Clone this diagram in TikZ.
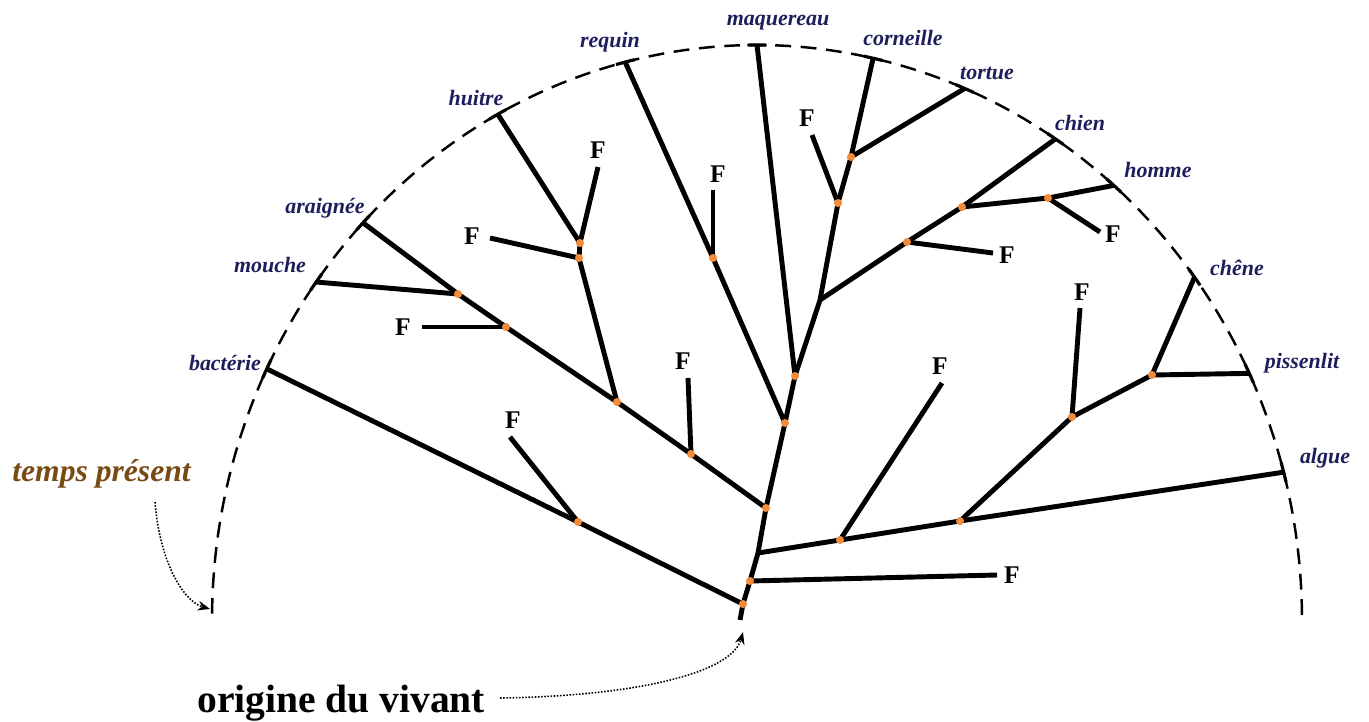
\documentclass[tikz,border=0pt]{standalone}
\usepackage{fontspec}
\setmainfont{Liberation Serif}
\usetikzlibrary{arrows.meta}
\definecolor{navy}{HTML}{1E1E5C}
\definecolor{dotor}{HTML}{F28C3C}
\definecolor{brownt}{HTML}{7A4A14}
\begin{document}
\begin{tikzpicture}[x=0.02cm,y=-0.02cm,
  branch/.style={line width=2.8pt, line join=round},
  leaf/.style={font=\fontsize{12.5}{14}\selectfont\bfseries\itshape, text=navy, inner sep=0pt},
  fos/.style={font=\fontsize{14.5}{16}\selectfont\bfseries, inner sep=0pt},
  jdot/.style={circle, fill=dotor, inner sep=0pt, minimum size=4.6pt},
  timearc/.style={line width=1.4pt, dash pattern=on 9pt off 5.5pt},
  tickmark/.style={line width=1.8pt},
  pointer/.style={line width=0.9pt, dash pattern=on 0.9pt off 0.9pt, -{Stealth[length=7pt,width=5.5pt]}}
]
\useasboundingbox (0,0) rectangle (1369,721);

% time arc (present)
\draw[timearc] plot[domain=0.5:179.5, samples=150, smooth] ({757+545*cos(\x)},{620-575*sin(\x)});

% leaves on the arc
\foreach \n/\a in {bact/154.1, mouch/144, arai/136.3, huit/118.4, requ/104, maqu/90,
  corn/77.7, tort/67.6, chie/56.8, homm/49.1, chen/36.6, piss/25.4, algu/14.9}{
  \coordinate (\n) at ({757+545*cos(\a)},{620-575*sin(\a)});
  \pgfmathsetmacro\lo{\a-1.0}
  \pgfmathsetmacro\hi{\a+1.0}
  \draw[tickmark] plot[domain=\lo:\hi, samples=5] ({757+545*cos(\x)},{620-575*sin(\x)});
}

% internal points
\coordinate (t0) at (740,620);
\coordinate (d1) at (743,604);
\coordinate (d2) at (750,581);
\coordinate (a1) at (758,553);
\coordinate (d3) at (766,508);
\coordinate (d4) at (785,423);
\coordinate (d5) at (795,376);
\coordinate (b1) at (820,300);
\coordinate (d6) at (838,203);
\coordinate (d7) at (851,157);
\coordinate (d8) at (907,242);
\coordinate (d9) at (962,207);
\coordinate (d10) at (1048,198);
\coordinate (d11) at (840,540);
\coordinate (d12) at (960,521);
\coordinate (d13) at (1072,417);
\coordinate (d14) at (1152,375);
\coordinate (d15) at (578,522);
\coordinate (d16) at (691,454);
\coordinate (d17) at (617,402);
\coordinate (d18) at (506,327);
\coordinate (d19) at (458,294);
\coordinate (d20) at (579,258);
\coordinate (d21) at (580,243);
\coordinate (d22) at (713,258);

% fossil ends
\coordinate (fA) at (510,437);
\coordinate (fB) at (688,378);
\coordinate (fC) at (422,327);
\coordinate (fD) at (490,238);
\coordinate (fE) at (598,167);
\coordinate (fF) at (713,190);
\coordinate (fG) at (812,135);
\coordinate (fH) at (993,253);
\coordinate (fI) at (1100,232);
\coordinate (fJ) at (942,383);
\coordinate (fK) at (1080,308);
\coordinate (fL) at (997,575);

% trunk and main lineages
\draw[branch] (t0) -- (d1) -- (d2) -- (a1) -- (d3) -- (d4) -- (d5) -- (b1) -- (d6) -- (d7) -- (corn);
\draw[branch] (d1) -- (d15) -- (bact);
\draw[branch] (d3) -- (d16) -- (d17) -- (d18) -- (d19) -- (arai);
\draw[branch] (d19) -- (mouch);
\draw[branch] (d17) -- (d20) -- (d21) -- (huit);
\draw[branch] (d4) -- (d22) -- (requ);
\draw[branch] (d5) -- (maqu);
\draw[branch] (d7) -- (tort);
\draw[branch] (b1) -- (d8) -- (d9) -- (chie);
\draw[branch] (d9) -- (d10) -- (homm);
\draw[branch] (a1) -- (d11) -- (d12) -- (algu);
\draw[branch] (d12) -- (d13) -- (d14) -- (chen);
\draw[branch] (d14) -- (piss);

% fossil branches
\draw[branch] (d15) -- (fA);
\draw[branch] (d16) -- (fB);
\draw[branch] (d18) -- (fC);
\draw[branch] (d20) -- (fD);
\draw[branch] (d21) -- (fE);
\draw[branch] (d22) -- (fF);
\draw[branch] (d6) -- (fG);
\draw[branch] (d8) -- (fH);
\draw[branch] (d10) -- (fI);
\draw[branch] (d11) -- (fJ);
\draw[branch] (d13) -- (fK);
\draw[branch] (d2) -- (fL);

% junction dots
\foreach \p in {d1,d2,d3,d4,d5,d6,d7,d8,d9,d10,d11,d12,d13,d14,d15,d16,d17,d18,d19,d20,d21,d22}
  \node[jdot] at (\p) {};

% fossil labels
\node[fos] (FA) at (513,420) {F};
\node[fos] (FB) at (683,361) {F};
\node[fos] (FC) at (403,327) {F};
\node[fos] (FD) at (472,236) {F};
\node[fos] (FE) at (598,150) {F};
\node[fos] (FF) at (718,174) {F};
\node[fos] (FG) at (807,118) {F};
\node[fos] (FH) at (1007,255) {F};
\node[fos] (FI) at (1113,234) {F};
\node[fos] (FJ) at (940,366) {F};
\node[fos] (FK) at (1082,292) {F};
\node[fos] (FL) at (1012,575) {F};

% leaf labels
\node[leaf] (Lbact) at (225,363) {bactérie};
\node[leaf] (Lmouch) at (270,265) {mouche};
\node[leaf] (Larai) at (325,208) {araignée};
\node[leaf] (Lhuit) at (476,98) {huitre};
\node[leaf] (Lrequ) at (610,42) {requin};
\node[leaf] (Lmaqu) at (778,23) {maquereau};
\node[leaf] (Lcorn) at (903,38) {corneille};
\node[leaf] (Ltort) at (987,73) {tortue};
\node[leaf] (Lchie) at (1080,123) {chien};
\node[leaf] (Lhomm) at (1158,170) {homme};
\node[leaf] (Lchen) at (1237,268) {chêne};
\node[leaf] (Lpiss) at (1302,363) {pissenlit};
\node[leaf] (Lalgu) at (1325,458) {algue};

% annotations
\node[font=\fontsize{18}{20}\selectfont\bfseries\itshape, text=brownt, anchor=base west, inner sep=0pt] (tp) at (12,481) {temps présent};
\node[font=\fontsize{22.5}{25}\selectfont\bfseries, anchor=base west, inner sep=0pt] (ov) at (197,712) {origine du vivant};
\coordinate (tpS) at (155,502);
\coordinate (tpE) at (210,609);
\coordinate (ovS) at (500,698);
\coordinate (ovE) at (743,632);
\draw[pointer] (tpS) .. controls (160,565) and (185,602) .. (tpE);
\draw[pointer] (ovS) .. controls (640,696) and (732,672) .. (ovE);
\end{tikzpicture}
\end{document}
